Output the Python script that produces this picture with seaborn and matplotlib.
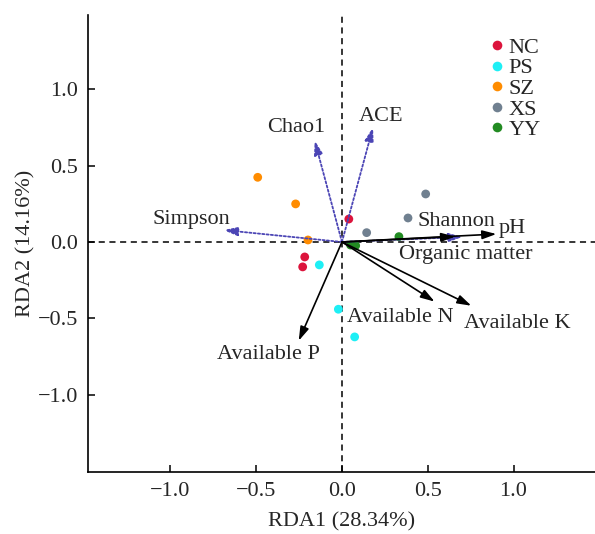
import numpy as np
import pandas as pd
import matplotlib
matplotlib.use("Agg")
import matplotlib.pyplot as plt
import seaborn as sns

# Sample scores
groups = ["NC", "NC", "NC", "PS", "PS", "PS", "SZ", "SZ", "SZ",
          "XS", "XS", "XS", "YY", "YY", "YY"]
rda1 = [0.04, -0.217, -0.229, -0.132, -0.021, 0.074, -0.491, -0.270, -0.198,
        0.488, 0.385, 0.144, 0.332, 0.080, 0.050]
rda2 = [0.15, -0.098, -0.163, -0.150, -0.440, -0.621, 0.423, 0.249, 0.013,
        0.314, 0.157, 0.061, 0.035, -0.024, -0.020]
group_order = ["NC", "PS", "SZ", "XS", "YY"]
group_colors = ["#DC143C", "#1EEFF5", "#FF8C00", "#708090", "#228B22"]

# Environmental factor arrows (black, solid)
env_names = ["pH", "Organic matter", "Available N", "Available K", "Available P"]
env_x = [0.90, 0.66, 0.540, 0.754, -0.252]
env_y = [0.052, 0.035, -0.390, -0.417, -0.646]

# Diversity index arrows (blue, dotted)
div_names = ["Chao1", "ACE", "Simpson", "Shannon"]
div_x = [-0.159, 0.181, -0.690, 0.703]
div_y = [0.663, 0.750, 0.078, 0.033]

xticks = [-1.0, -0.5, 0.0, 0.5, 1.0]
yticks = [-1.0, -0.5, 0.0, 0.5, 1.0]

sns.set_theme(style="ticks")
plt.rcParams["font.family"] = ["Liberation Serif", "DejaVu Serif"]

fig = plt.figure(figsize=(5.95, 5.34), dpi=100)
ax = fig.add_axes([0.148, 0.116, 0.852, 0.856])

df = pd.DataFrame({"RDA1": rda1, "RDA2": rda2, "Group": groups})
sns.scatterplot(data=df, x="RDA1", y="RDA2", hue="Group", hue_order=group_order,
                palette=group_colors, s=40, linewidth=0, ax=ax, zorder=3)

ax.axhline(0, color="black", ls=(0, (4, 3)), lw=1.1, zorder=1)
ax.axvline(0, color="black", ls=(0, (4, 3)), lw=1.1, zorder=1)

blue = "#4B45B5"
for nm, x, y in zip(div_names, div_x, div_y):
    ax.annotate("", xy=(x, y), xytext=(0, 0),
                arrowprops=dict(arrowstyle="-|>,head_length=0.7,head_width=0.22",
                                color=blue, lw=1.3, linestyle=(0, (1.2, 1.2)),
                                shrinkA=0, shrinkB=0), zorder=4)
for nm, x, y in zip(env_names, env_x, env_y):
    ax.annotate("", xy=(x, y), xytext=(0, 0),
                arrowprops=dict(arrowstyle="-|>,head_length=0.7,head_width=0.22",
                                color="black", lw=1.2,
                                shrinkA=0, shrinkB=0), zorder=4)

fs = 16
lbl = {
    "Chao1": (-0.264, 0.746, "center", "center"),
    "ACE": (0.23, 0.824, "center", "center"),
    "Simpson": (-0.875, 0.144, "center", "center"),
    "Shannon": (0.44, 0.137, "left", "center"),
    "pH": (0.915, 0.085, "left", "center"),
    "Organic matter": (0.335, -0.08, "left", "center"),
    "Available N": (0.03, -0.497, "left", "center"),
    "Available K": (0.71, -0.53, "left", "center"),
    "Available P": (-0.728, -0.739, "left", "center"),
}
for nm, (x, y, ha, va) in lbl.items():
    ax.text(x, y, nm, fontsize=fs, ha=ha, va=va, zorder=5)

ax.set_xlim(-1.48, 1.475)
ax.set_ylim(-1.505, 1.485)
ax.set_xticks(xticks)
ax.set_yticks(yticks)
ax.set_xticklabels([f"{t:.1f}".replace("-", "\u2212") for t in xticks])
ax.set_yticklabels([f"{t:.1f}".replace("-", "\u2212") for t in yticks])
ax.tick_params(direction="in", length=5, width=1.1, labelsize=fs, pad=7, color="black")
ax.set_xlabel("RDA1 (28.34%)", fontsize=fs, labelpad=8)
ax.set_ylabel("RDA2 (14.16%)", fontsize=fs, labelpad=2)
for side in ["top", "right"]:
    ax.spines[side].set_visible(False)
for side in ["left", "bottom"]:
    ax.spines[side].set_linewidth(1.2)
    ax.spines[side].set_color("black")

leg = ax.legend(loc="upper left", bbox_to_anchor=(0.794, 0.951), frameon=False,
                fontsize=fs, handletextpad=0.2, labelspacing=0.0,
                borderaxespad=0, borderpad=0, markerscale=1.1, handlelength=0.6)

fig.savefig("out.png", dpi=100)
